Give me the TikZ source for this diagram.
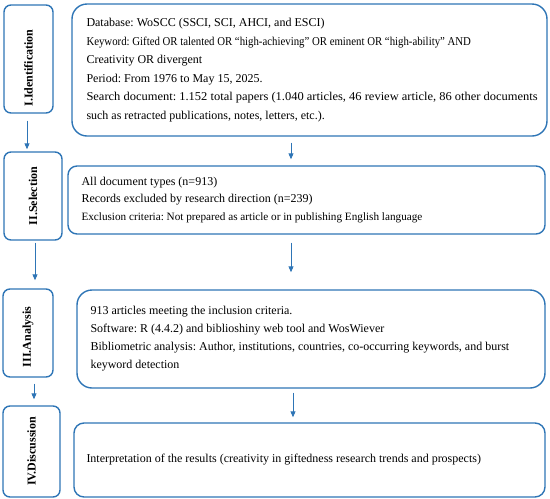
\documentclass[tikz,border=0pt]{standalone}
\usepackage{fontspec}
\usepackage{graphicx}
\setmainfont{Liberation Serif}
\frenchspacing
\usetikzlibrary{arrows.meta}
\definecolor{boxblue}{RGB}{46,117,182}
\tikzset{
  stagebox/.style={draw=boxblue, line width=1.4pt, rounded corners=7pt, rotate=90,
    inner sep=0pt, font=\bfseries\fontsize{12}{13}\selectfont},
  infobox/.style={draw=boxblue, line width=1.4pt, inner sep=0pt},
  infotext/.style={anchor=west, align=left, inner sep=0pt, font=\fontsize{12}{18.5}\selectfont},
  flowarrow/.style={draw=boxblue, line width=0.9pt, -{Triangle[width=5pt,length=6pt]}}
}
\begin{document}
\begin{tikzpicture}[x=1pt,y=-1pt]
  \useasboundingbox (0,0) rectangle (550,499);
  % 左侧阶段
  \node[stagebox, minimum width=108pt, minimum height=49pt] (ident) at (28.5,59) {I.Identification\kern18pt\relax};
  \node[stagebox, minimum width=88pt, minimum height=58pt] (select) at (33,196) {II.Selection};
  \node[stagebox, minimum width=88pt, minimum height=50pt] (analys) at (28,333) {III.Analysis\kern8pt\relax};
  \node[stagebox, minimum width=91pt, minimum height=57pt] (discus) at (31.5,451.5) {IV.Discussion};
  % 右侧内容框
  \node[infobox, rounded corners=15pt, minimum width=475pt, minimum height=132pt] (identbox) at (309.5,70) {};
  \node[infobox, rounded corners=9pt, minimum width=477pt, minimum height=68pt] (selectbox) at (306.5,200) {};
  \node[infobox, rounded corners=15pt, minimum width=468pt, minimum height=98pt] (analysbox) at (311,339) {};
  \node[infobox, rounded corners=10pt, minimum width=471pt, minimum height=74pt] (discusbox) at (309.5,460) {};
  % 文字
  \node[infotext] (identtext) at ([xshift=15pt]identbox.west)
    {Database: WoSCC (SSCI, SCI, AHCI, and ESCI)\\
     \scalebox{0.9}[1]{Keyword: Gifted OR talented OR “high-achieving” OR eminent OR “high-ability” AND}\\
     Creativity OR divergent\\
     Period: From 1976 to May 15, 2025.\\
     \scalebox{1.04}[1]{Search document: 1.152 total papers (1.040 articles, 46 review article, 86 other documents}\\
     such as retracted publications, notes, letters, etc.).};
  \node[infotext, font=\fontsize{12}{17.5}\selectfont] (selecttext) at ([xshift=14pt]selectbox.west)
    {All document types (n=913)\\
     Records excluded by research direction (n=239)\\
     {\fontsize{11.2}{13}\selectfont Exclusion criteria: Not prepared as article or in publishing English language}};
  \node[infotext, font=\fontsize{12}{18}\selectfont] (analystext) at ([xshift=14pt]analysbox.west)
    {913 articles meeting the inclusion criteria.\\
     Software: R (4.4.2) and biblioshiny web tool and WosWiever\\
     Bibliometric analysis: Author, institutions, countries, co-occurring keywords, and burst\\
     keyword detection};
  \node[infotext] (discustext) at ([xshift=13pt]discusbox.west)
    {Interpretation of the results (creativity in giftedness research trends and prospects)};
  % 箭头
  \coordinate (leftA) at (27,0);
  \coordinate (leftB) at (35,0);
  \coordinate (leftC) at (34,0);
  \coordinate (rightA) at (291,0);
  \coordinate (rightC) at (293,0);
  \draw[flowarrow, shorten <=7pt, shorten >=2pt] (ident.west -| leftA) -- (select.east -| leftA);
  \draw[flowarrow, shorten <=2pt, shorten >=8pt] (select.west -| leftB) -- (analys.east -| leftB);
  \draw[flowarrow, shorten <=6pt, shorten >=6pt] (analys.west -| leftC) -- (discus.east -| leftC);
  \draw[flowarrow, shorten <=6pt, shorten >=6pt] (identbox.south -| rightA) -- (selectbox.north -| rightA);
  \draw[flowarrow, shorten <=8pt, shorten >=17pt] (selectbox.south -| rightA) -- (analysbox.north -| rightA);
  \draw[flowarrow, shorten <=4pt, shorten >=5pt] (analysbox.south -| rightC) -- (discusbox.north -| rightC);
\end{tikzpicture}
\end{document}
